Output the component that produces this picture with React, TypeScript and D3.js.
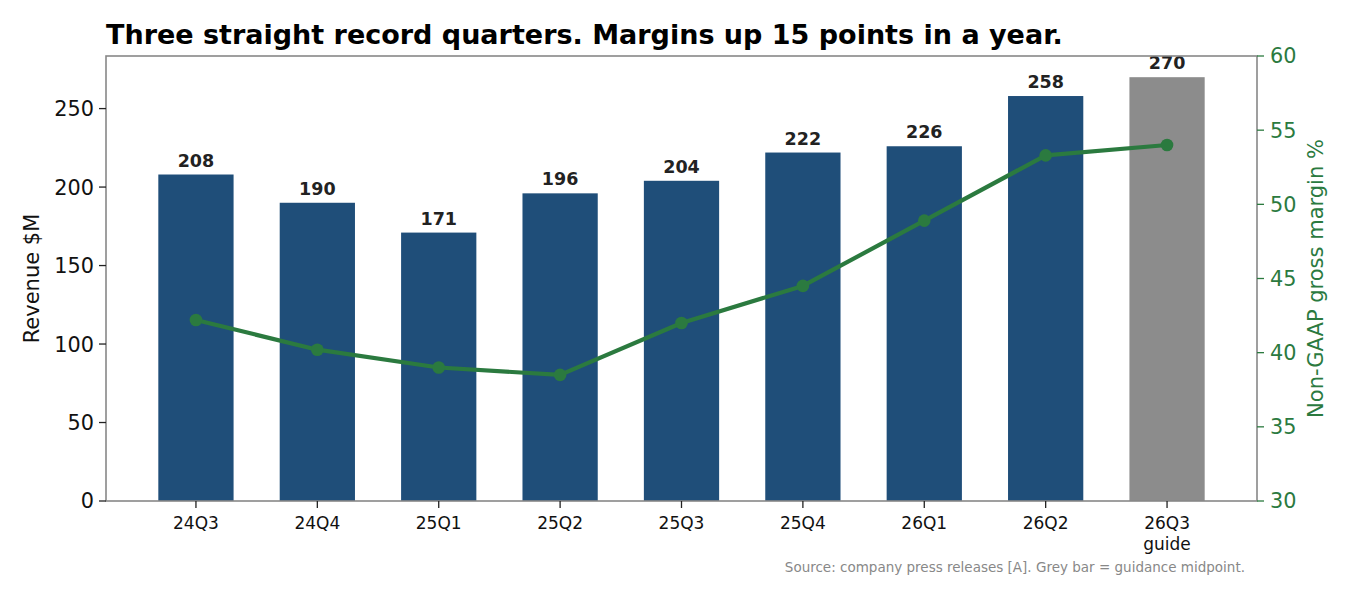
import { useEffect, useRef } from "react"
import * as d3 from "d3"

// datos del gráfico
const trimestres = ["24Q3", "24Q4", "25Q1", "25Q2", "25Q3", "25Q4", "26Q1", "26Q2", "26Q3\nguide"]
const ingresos = [208, 190, 171, 196, 204, 222, 226, 258, 270]
const margen = [42.2, 40.2, 39.0, 38.5, 42.0, 44.5, 48.9, 53.3, 54.0]
const esGuia = [false, false, false, false, false, false, false, false, true]
const ticksIzq = [0, 50, 100, 150, 200, 250]
const ticksDer = [30, 35, 40, 45, 50, 55, 60]

const AZUL = "#1f4e79"
const GRIS = "#8c8c8c"
const VERDE = "#2b7a3f"
const FUENTE = "DejaVu Sans, sans-serif"

export default function App() {
  const svgRef = useRef<SVGSVGElement>(null)

  useEffect(() => {
    document.body.style.margin = "0"
    if (!svgRef.current) return
    const svg = d3.select(svgRef.current)
    svg.selectAll("*").remove()

    const width = 1350
    const height = 600
    const m = { left: 106, right: width - 1257, top: 56, bottom: height - 501 }
    const x0 = m.left
    const x1 = width - m.right
    const y0 = height - m.bottom
    const y1 = m.top

    // escalas
    const anchoBarra = 0.62
    const x = d3.scaleLinear().domain([-0.741, trimestres.length - 1 + 0.741]).range([x0, x1])
    const yIzq = d3.scaleLinear().domain([0, 283.5]).range([y0, y1])
    const yDer = d3.scaleLinear().domain([30, 60]).range([y0, y1])

    const g = svg.append("g")

    // barras
    g.selectAll("rect.barra")
      .data(ingresos)
      .join("rect")
      .attr("class", "barra")
      .attr("x", (_, i) => x(i - anchoBarra / 2))
      .attr("width", x(anchoBarra) - x(0))
      .attr("y", (d) => yIzq(d))
      .attr("height", (d) => yIzq(0) - yIzq(d))
      .attr("fill", (_, i) => (esGuia[i] ? GRIS : AZUL))

    // etiquetas de valor
    g.selectAll("text.valor")
      .data(ingresos)
      .join("text")
      .attr("class", "valor")
      .attr("x", (_, i) => x(i))
      .attr("y", (d) => yIzq(d) - 8)
      .attr("text-anchor", "middle")
      .style("font-family", FUENTE)
      .style("font-size", "17.5px")
      .style("font-weight", "bold")
      .attr("fill", "#222")
      .text((d) => d)

    // línea de margen
    const linea = d3
      .line<number>()
      .x((_, i) => x(i))
      .y((d) => yDer(d))

    g.append("path")
      .datum(margen)
      .attr("d", linea)
      .attr("fill", "none")
      .attr("stroke", VERDE)
      .attr("stroke-width", 4.2)
      .attr("stroke-linejoin", "round")

    g.selectAll("circle.punto")
      .data(margen)
      .join("circle")
      .attr("class", "punto")
      .attr("cx", (_, i) => x(i))
      .attr("cy", (d) => yDer(d))
      .attr("r", 6.3)
      .attr("fill", VERDE)

    // marco
    g.append("rect")
      .attr("x", x0)
      .attr("y", y1)
      .attr("width", x1 - x0)
      .attr("height", y0 - y1)
      .attr("fill", "none")
      .attr("stroke", "#888")
      .attr("stroke-width", 1.6)

    // eje izquierdo
    ticksIzq.forEach((t) => {
      const yy = yIzq(t)
      g.append("line").attr("x1", x0 - 7).attr("x2", x0).attr("y1", yy).attr("y2", yy).attr("stroke", "#222").attr("stroke-width", 1.3)
      g.append("text")
        .attr("x", x0 - 12)
        .attr("y", yy)
        .attr("dy", "0.36em")
        .attr("text-anchor", "end")
        .style("font-family", FUENTE)
        .style("font-size", "20.8px")
        .attr("fill", "#111")
        .text(t)
    })

    // eje derecho
    ticksDer.forEach((t) => {
      const yy = yDer(t)
      g.append("line").attr("x1", x1).attr("x2", x1 + 7).attr("y1", yy).attr("y2", yy).attr("stroke", VERDE).attr("stroke-width", 1.3)
      g.append("text")
        .attr("x", x1 + 13)
        .attr("y", yy)
        .attr("dy", "0.36em")
        .attr("text-anchor", "start")
        .style("font-family", FUENTE)
        .style("font-size", "20.8px")
        .attr("fill", VERDE)
        .text(t)
    })

    // eje x
    trimestres.forEach((t, i) => {
      const xx = x(i)
      g.append("line").attr("x1", xx).attr("x2", xx).attr("y1", y0).attr("y2", y0 + 7).attr("stroke", "#222").attr("stroke-width", 1.3)
      const txt = g
        .append("text")
        .attr("text-anchor", "middle")
        .style("font-family", FUENTE)
        .style("font-size", "17px")
        .attr("fill", "#111")
      t.split("\n").forEach((linea, k) => {
        txt.append("tspan").attr("x", xx).attr("y", y0 + 28 + k * 21).text(linea)
      })
    })

    // títulos de ejes
    g.append("text")
      .attr("transform", `translate(39,${(y0 + y1) / 2}) rotate(-90)`)
      .attr("text-anchor", "middle")
      .style("font-family", FUENTE)
      .style("font-size", "21px")
      .attr("fill", "#111")
      .text("Revenue $M")

    g.append("text")
      .attr("transform", `translate(1323,${(y0 + y1) / 2}) rotate(-90)`)
      .attr("text-anchor", "middle")
      .style("font-family", FUENTE)
      .style("font-size", "21px")
      .attr("fill", VERDE)
      .text("Non-GAAP gross margin %")

    // título
    g.append("text")
      .attr("x", x0)
      .attr("y", 44)
      .style("font-family", FUENTE)
      .style("font-size", "27px")
      .style("font-weight", "bold")
      .attr("fill", "#000")
      .text("Three straight record quarters. Margins up 15 points in a year.")

    // fuente
    g.append("text")
      .attr("x", 1245)
      .attr("y", 572)
      .attr("text-anchor", "end")
      .style("font-family", FUENTE)
      .style("font-size", "13.5px")
      .attr("fill", "#888")
      .text("Source: company press releases [A]. Grey bar = guidance midpoint.")
  }, [])

  return <svg ref={svgRef} width={1350} height={600} style={{ display: "block", background: "#fff" }} />
}
